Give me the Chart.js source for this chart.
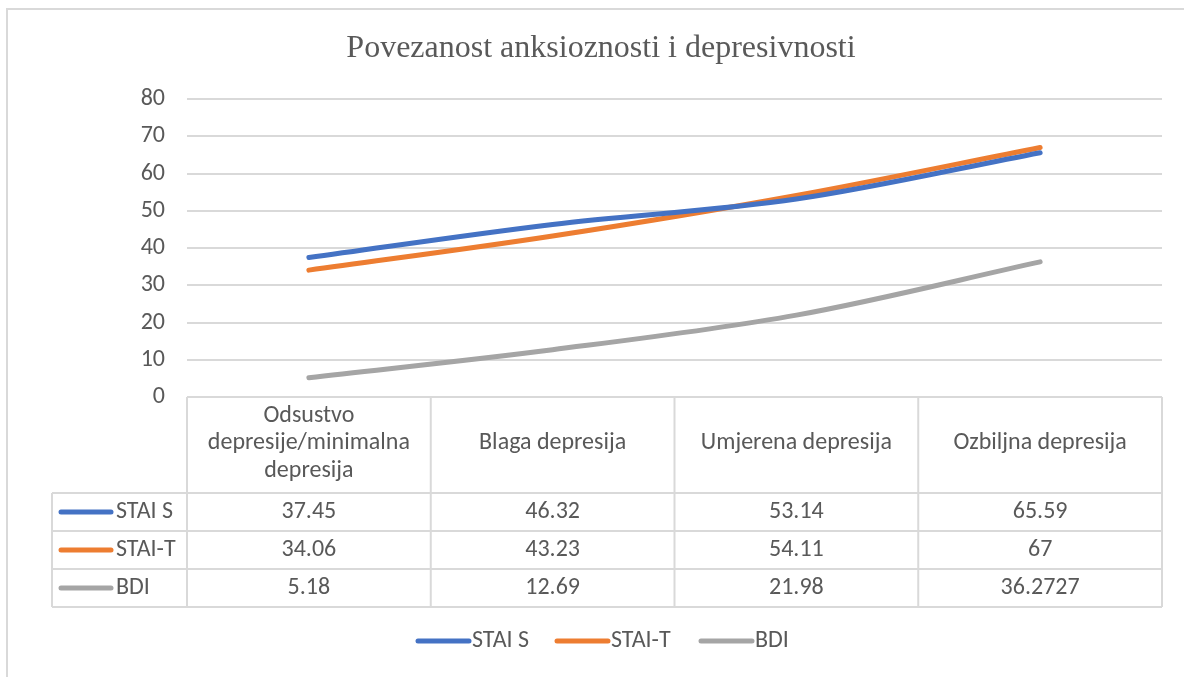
<!DOCTYPE html>
<html>
<head>
<meta charset="utf-8">
<script src="https://cdn.jsdelivr.net/npm/chart.js@4.4.1/dist/chart.umd.min.js"></script>
<style>
  html, body { margin: 0; padding: 0; background: #fff; }
  #wrap { position: relative; width: 1184px; height: 677px; overflow: hidden; }
  #frame { position: absolute; left: 6px; top: 8px; width: 1300px; height: 800px;
           border-left: 2px solid #d9d9d9; border-top: 2px solid #d9d9d9; }
  #myChart { position: absolute; left: 0; top: 0; }
</style>
</head>
<body>
<div id="wrap">
  <div id="frame"></div>
  <canvas id="myChart" width="1184" height="677"></canvas>
</div>
<script>
"use strict";

const TITLE = "Povezanost anksioznosti i depresivnosti";
const CATEGORIES = [
    ["Odsustvo", "depresije/minimalna", "depresija"],
    ["Blaga depresija"],
    ["Umjerena depresija"],
    ["Ozbiljna depresija"]
];
const SERIES_NAMES = ["STAI S", "STAI-T", "BDI"];
const STAI_S = [37.45, 46.32, 53.14, 65.59];
const STAI_T = [34.06, 43.23, 54.11, 67];
const BDI = [5.18, 12.69, 21.98, 36.2727];
const TABLE_TEXT = [
    ["37.45", "46.32", "53.14", "65.59"],
    ["34.06", "43.23", "54.11", "67"],
    ["5.18", "12.69", "21.98", "36.2727"]
];
const COLORS = ["#4472C4", "#ED7D31", "#A5A5A5"];
const Y_TICKS = [0, 10, 20, 30, 40, 50, 60, 70, 80];

const FONT = 'Carlito, Calibri, Lato, "Open Sans", sans-serif';
const TEXT_COLOR = "#595959";
const LINE_COLOR = "#d9d9d9";

document.addEventListener("DOMContentLoaded", init);

function init()
{
    const values = [STAI_S, STAI_T, BDI];
    const datasets = SERIES_NAMES.map((name, i) => ({
        label: name,
        data: values[i],
        borderColor: COLORS[i],
        backgroundColor: COLORS[i],
        borderWidth: 5,
        borderCapStyle: "round",
        borderJoinStyle: "round",
        pointRadius: 0,
        pointHoverRadius: 0,
        tension: 0.33,
        fill: false
    }));

    // title, data table and legend drawn around the plot
    const extras = {
        id: "extras",
        afterDraw(chart) {
            const ctx = chart.ctx;
            const area = chart.chartArea;
            const x = chart.scales.x;
            const colW = (area.right - area.left) / CATEGORIES.length;

            ctx.save();
            // title
            ctx.fillStyle = TEXT_COLOR;
            ctx.font = '32px "Liberation Serif", "Times New Roman", serif';
            ctx.textAlign = "center";
            ctx.textBaseline = "middle";
            ctx.fillText(TITLE, 601, 49);

            // table grid
            const top = area.bottom;
            const headH = 96;
            const rowH = 38;
            const left = 52;
            ctx.strokeStyle = LINE_COLOR;
            ctx.lineWidth = 2;
            ctx.beginPath();
            ctx.moveTo(area.left, top);
            ctx.lineTo(area.right, top);
            for (let i = 0; i <= CATEGORIES.length; i++) {
                const cx = area.left + colW * i;
                ctx.moveTo(cx, top);
                ctx.lineTo(cx, top + headH + rowH * 3);
            }
            for (let r = 0; r <= SERIES_NAMES.length; r++) {
                const y = top + headH + rowH * r;
                ctx.moveTo(left, y);
                ctx.lineTo(area.right, y);
            }
            ctx.moveTo(left, top + headH);
            ctx.lineTo(left, top + headH + rowH * 3);
            ctx.stroke();

            // header labels
            ctx.fillStyle = TEXT_COLOR;
            ctx.font = "24px " + FONT;
            CATEGORIES.forEach((lines, i) => {
                const cx = x.getPixelForValue(i);
                const lh = 27.5;
                const y0 = top + headH / 2 - 2 - (lines.length - 1) * lh / 2;
                lines.forEach((t, j) => ctx.fillText(t, cx, y0 + j * lh));
            });

            // rows
            SERIES_NAMES.forEach((name, r) => {
                const cy = top + headH + rowH * r + rowH / 2;
                ctx.strokeStyle = COLORS[r];
                ctx.lineWidth = 5;
                ctx.lineCap = "round";
                ctx.beginPath();
                ctx.moveTo(61, cy);
                ctx.lineTo(111, cy);
                ctx.stroke();
                ctx.textAlign = "left";
                ctx.fillText(name, 116, cy);
                ctx.textAlign = "center";
                TABLE_TEXT[r].forEach((t, i) => {
                    ctx.fillText(t, x.getPixelForValue(i), cy);
                });
            });

            // legend
            const legendY = 641;
            const legendX = [418, 557, 701];
            SERIES_NAMES.forEach((name, r) => {
                ctx.strokeStyle = COLORS[r];
                ctx.lineWidth = 5;
                ctx.lineCap = "round";
                ctx.beginPath();
                ctx.moveTo(legendX[r], legendY);
                ctx.lineTo(legendX[r] + 51, legendY);
                ctx.stroke();
                ctx.textAlign = "left";
                ctx.fillText(name, legendX[r] + 54, legendY);
            });
            ctx.restore();
        }
    };

    const config = {
        type: "line",
        data: { labels: CATEGORIES.map(c => c.join(" ")), datasets: datasets },
        options: {
            responsive: false,
            animation: false,
            layout: { padding: { left: 0, right: 22, top: 99, bottom: 280 } },
            plugins: {
                legend: { display: false },
                title: { display: false },
                tooltip: { enabled: false }
            },
            scales: {
                x: { display: false, offset: true },
                y: {
                    min: 0,
                    max: 80,
                    afterBuildTicks: (s) => { s.ticks = Y_TICKS.map(v => ({ value: v })); },
                    afterFit: (s) => { s.width = 187; },
                    border: { display: false },
                    grid: { color: LINE_COLOR, lineWidth: 2, drawTicks: false },
                    ticks: { color: TEXT_COLOR, padding: 22, font: { size: 24, family: FONT } }
                }
            }
        },
        plugins: [extras]
    };

    new Chart(document.getElementById("myChart"), config);
}
</script>
</body>
</html>
